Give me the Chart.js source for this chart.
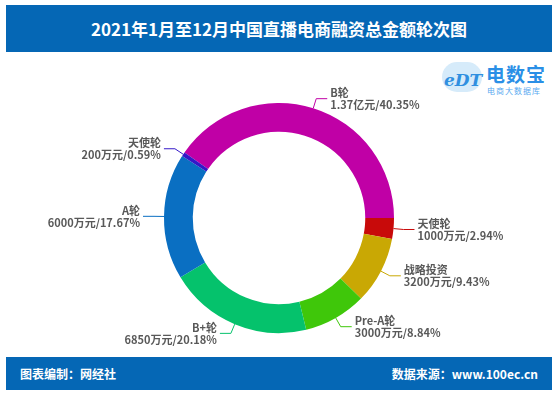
<!DOCTYPE html>
<html>
<head>
<meta charset="utf-8">
<script src="https://cdn.jsdelivr.net/npm/chart.js@4"></script>
<style>
  body { margin: 0; width: 558px; height: 396px; background: #fff; position: relative; overflow: hidden; font-family: "Noto Sans CJK SC", sans-serif; }
  .bar { position: absolute; left: 6px; width: 546px; background: #0567b5; color: #fff; font-weight: bold; }
  #title { top: 5px; height: 47px; line-height: 47px; text-align: center; font-size: 17px; }
  #footer { top: 357px; height: 33px; line-height: 33px; font-size: 12px; }
  #footer .l { position: absolute; left: 14px; }
  #footer .r { position: absolute; right: 14px; }
  #logo { position: absolute; left: 440px; top: 58px; width: 110px; height: 42px; }
  #logo .cloud { position: absolute; left: 2px; top: 4px; width: 40px; height: 30px; border-radius: 18px; background: #d6ebfa; }
  #logo .edt { position: absolute; left: 4px; top: 12px; font: italic bold 17px "DejaVu Serif", serif; color: #2f8fe0; }
  #logo .name { position: absolute; left: 46px; top: 2px; font-size: 19px; font-weight: bold; color: #2a8fe6; letter-spacing: 1px; }
  #logo .sub { position: absolute; left: 47px; top: 27px; font-size: 8px; color: #5aaaf0; letter-spacing: 1px; }
  #wrap { position: absolute; left: 0; top: 60px; width: 558px; height: 316px; }
</style>
</head>
<body>
<div class="bar" id="title">2021年1月至12月中国直播电商融资总金额轮次图</div>
<div id="logo"><div class="cloud"></div><div class="edt">eDT</div><div class="name">电数宝</div><div class="sub">电商大数据库</div></div>
<div id="wrap"><canvas id="donut" width="558" height="316"></canvas></div>
<div class="bar" id="footer"><span class="l">图表编制：网经社</span><span class="r">数据来源：www.100ec.cn</span></div>
<script>
// 轮次 (clockwise, starting with B轮)
const rounds = ['B轮', '天使轮', '战略投资', 'Pre-A轮', 'B+轮', 'A轮', '天使轮'];
const amounts = [13700, 1000, 3200, 3000, 6850, 6000, 200]; // 万元
const amountLabels = ['1.37亿元', '1000万元', '3200万元', '3000万元', '6850万元', '6000万元', '200万元'];
const pctLabels = ['40.35%', '2.94%', '9.43%', '8.84%', '20.18%', '17.67%', '0.59%'];
const colors = ['#c000a6', '#c80a0a', '#c9a804', '#3fc70a', '#05c26c', '#0a6fc2', '#3418c8'];

const leaderLabels = {
  id: 'leaderLabels',
  afterDatasetsDraw(chart) {
    const ctx = chart.ctx;
    const arcs = chart.getDatasetMeta(0).data;
    ctx.save();
    ctx.font = 'bold 11px "Noto Sans CJK SC"';
    ctx.textBaseline = 'middle';
    arcs.forEach((arc, i) => {
      const p = arc.getProps(['x', 'y', 'startAngle', 'endAngle', 'outerRadius'], true);
      const mid = (p.startAngle + p.endAngle) / 2;
      const c = Math.cos(mid), s = Math.sin(mid);
      const x0 = p.x + c * p.outerRadius, y0 = p.y + s * p.outerRadius;
      const x1 = p.x + c * (p.outerRadius + 10), y1 = p.y + s * (p.outerRadius + 10);
      const dir = c >= 0 ? 1 : -1;
      const x2 = x1 + dir * 11;
      ctx.strokeStyle = colors[i];
      ctx.lineWidth = 1;
      ctx.beginPath();
      ctx.moveTo(x0, y0);
      ctx.lineTo(x1, y1);
      ctx.lineTo(x2, y1);
      ctx.stroke();
      ctx.fillStyle = '#595959';
      ctx.textAlign = dir > 0 ? 'left' : 'right';
      const tx = x2 + dir * 3;
      ctx.fillText(rounds[i], tx, y1 - 6);
      ctx.fillText(amountLabels[i] + '/' + pctLabels[i], tx, y1 + 6);
    });
    ctx.restore();
  }
};

new Chart(document.getElementById('donut'), {
  type: 'doughnut',
  data: {
    labels: rounds,
    datasets: [{
      data: amounts,
      backgroundColor: colors,
      borderWidth: 0
    }]
  },
  options: {
    responsive: false,
    animation: false,
    rotation: -55.3,
    cutout: '75%',
    layout: { padding: 43 },
    plugins: {
      legend: { display: false },
      tooltip: { enabled: false }
    }
  },
  plugins: [leaderLabels]
});
</script>
</body>
</html>
